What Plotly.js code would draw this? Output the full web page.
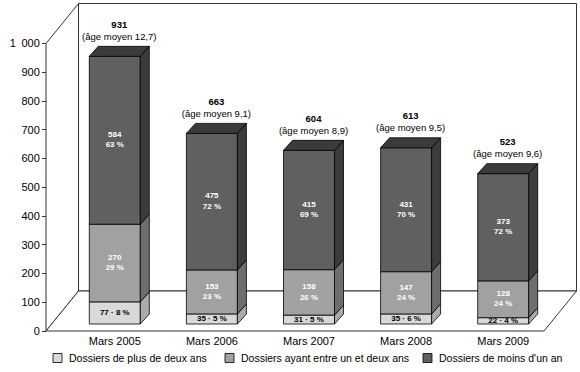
<!DOCTYPE html>
<html>
<head>
<meta charset="utf-8">
<script src="https://cdn.plot.ly/plotly-3.0.1.min.js"></script>
<style>html,body{margin:0;padding:0;background:#fff;}#chart{width:580px;height:372px;}</style>
</head>
<body>
<div id="chart"></div>
<script>
// ---- data ----
const categories = ['Mars 2005', 'Mars 2006', 'Mars 2007', 'Mars 2008', 'Mars 2009'];
const totals = [931, 663, 604, 613, 523];
const ageMoyen = ['12,7', '9,1', '8,9', '9,5', '9,6'];
const plusDeDeuxAns = [77, 35, 31, 35, 22];
const plusDeDeuxAnsPct = [8, 5, 5, 6, 4];
const entreUnEtDeuxAns = [270, 153, 158, 147, 128];
const entreUnEtDeuxAnsPct = [29, 23, 26, 24, 24];
const moinsDUnAn = [584, 475, 415, 431, 373];
const moinsDUnAnPct = [63, 72, 69, 70, 72];
const seriesNames = ['Dossiers de plus de deux ans', 'Dossiers ayant entre un et deux ans', "Dossiers de moins d'un an"];
const yTickVals = [0, 100, 200, 300, 400, 500, 600, 700, 800, 900, 1000];
const yTickText = ['0', '100', '200', '300', '400', '500', '600', '700', '800', '900', '1\u2002000'];

// ---- geometry (pixel-based pseudo-3D) ----
const W = 580, H = 372, ML = 40, MR = 2, MT = 1, MB = 39;
const plotW = W - ML - MR, plotH = H - MT - MB;
const PXU = 97.1, PXV = 0.2875;     // px per category, px per value unit
const U0PX = 109, ZEROPX = 331;     // pixel of category 0 / value 0 (front plane)
const dx = p => p / PXU, dy = p => p / PXV;
const xRange = [(ML - U0PX) / PXU, (W - MR - U0PX) / PXU];
const yRange = [(ZEROPX - (H - MB)) / PXV, (ZEROPX - MT) / PXV];
const pxX = p => (p - ML) / plotW, pxY = p => (H - MB - p) / plotH;

const xL = (46 - U0PX) / PXU, xR = (544 - U0PX) / PXU;
const wallDx = dx(32.5), wallDy = dy(40);
const fdx = dx(5.8), fdy = dy(7);      // bar front face depth
const bw = dx(51);                      // bar width
const bdx = dx(9), bdy = dy(10);        // bar depth

const font = 'Liberation Sans, Arial, Helvetica, sans-serif';
const frontColors = ['#d9d9d9', '#a1a1a1', '#606060'];
const sideColors = ['#ababab', '#6e6e6e', '#3c3c3c'];
const topColor = '#3b3b3b';

const seriesVals = [plusDeDeuxAns, entreUnEtDeuxAns, moinsDUnAn];
const seriesPct = [plusDeDeuxAnsPct, entreUnEtDeuxAnsPct, moinsDUnAnPct];

const traces = [];
const xc = categories.map((c, i) => i + fdx);
let cum = categories.map(() => fdy);

seriesVals.forEach((vals, s) => {
  const bases = cum.slice();
  traces.push({
    type: 'bar', x: xc, y: vals, base: bases, width: bw, name: seriesNames[s],
    marker: {color: frontColors[s], line: {color: '#000', width: 0.8}},
    hoverinfo: 'skip', showlegend: false
  });
  // side faces
  const sx = [], sy = [];
  vals.forEach((v, i) => {
    const r = xc[i] + bw / 2, b = bases[i], t = bases[i] + v;
    sx.push(r, r + bdx, r + bdx, r, r, null);
    sy.push(b, b + bdy, t + bdy, t, b, null);
  });
  traces.push({type: 'scatter', mode: 'lines', x: sx, y: sy, fill: 'toself', fillcolor: sideColors[s],
    line: {color: '#000', width: 0.8}, hoverinfo: 'skip', showlegend: false});
  // labels
  const tx = [], ty = [], tt = [];
  vals.forEach((v, i) => {
    tx.push(xc[i]); ty.push(bases[i] + v / 2);
    tt.push(s === 0 ? '<b>' + v + ' · ' + seriesPct[s][i] + ' %</b>' : '<b>' + v + '</b><br><b>' + seriesPct[s][i] + ' %</b>');
  });
  traces.push({type: 'scatter', mode: 'text', x: tx, y: ty, text: tt, textposition: 'middle center',
    textfont: {family: font, size: 8, color: s === 0 ? '#000' : '#fff'}, hoverinfo: 'skip', showlegend: false, cliponaxis: false});
  cum = cum.map((c, i) => c + vals[i]);
});

// top faces
const topX = [], topY = [];
cum.forEach((t, i) => {
  const l = xc[i] - bw / 2, r = xc[i] + bw / 2;
  topX.push(l, r, r + bdx, l + bdx, l, null);
  topY.push(t, t, t + bdy, t + bdy, t, null);
});
traces.push({type: 'scatter', mode: 'lines', x: topX, y: topY, fill: 'toself', fillcolor: topColor,
  line: {color: '#000', width: 0.8}, hoverinfo: 'skip', showlegend: false});

// totals + average age
traces.push({type: 'scatter', mode: 'text', x: xc.map(x => x + dx(4.5)), y: cum.map(t => t + dy(31)),
  text: totals.map(v => '<b>' + v + '</b>'), textposition: 'middle center',
  textfont: {family: font, size: 9.5, color: '#000'}, hoverinfo: 'skip', showlegend: false, cliponaxis: false});
traces.push({type: 'scatter', mode: 'text', x: xc.map(x => x + dx(4.5)), y: cum.map(t => t + dy(19)),
  text: ageMoyen.map(a => '(âge moyen ' + a + ')'), textposition: 'middle center',
  textfont: {family: font, size: 9.5, color: '#000'}, hoverinfo: 'skip', showlegend: false, cliponaxis: false});

// frame (walls + floor) drawn below traces
const P = pts => 'M' + pts.map(p => p[0] + ',' + p[1]).join('L') + 'Z';
const frameLine = {color: '#333', width: 1};
const shapes = [
  {type: 'path', xref: 'x', yref: 'y', layer: 'below', line: frameLine, fillcolor: '#fff',
   path: P([[xL + wallDx, wallDy], [xL + wallDx, 1000 + wallDy], [xR + wallDx, 1000 + wallDy], [xR + wallDx, wallDy]])},
  {type: 'path', xref: 'x', yref: 'y', layer: 'below', line: frameLine, fillcolor: '#fff',
   path: P([[xL, 0], [xL, 1000], [xL + wallDx, 1000 + wallDy], [xL + wallDx, wallDy]])},
  {type: 'path', xref: 'x', yref: 'y', layer: 'below', line: frameLine, fillcolor: '#fff',
   path: P([[xL, 0], [xR, 0], [xR + wallDx, wallDy], [xL + wallDx, wallDy]])}
];

// legend (drawn manually to match the compact original layout)
const legendBoxX = [53, 225, 423], legendTextX = [67, 239, 437], legendY = 358;
const annotations = [];
seriesNames.forEach((n, s) => {
  shapes.push({type: 'rect', xref: 'paper', yref: 'paper', layer: 'above',
    x0: pxX(legendBoxX[s]), x1: pxX(legendBoxX[s] + 9), y0: pxY(legendY + 4.5), y1: pxY(legendY - 4.5),
    fillcolor: frontColors[s], line: {color: '#000', width: 0.8}});
  annotations.push({xref: 'paper', yref: 'paper', x: pxX(legendTextX[s]), y: pxY(legendY),
    xanchor: 'left', yanchor: 'middle', showarrow: false, text: n,
    font: {family: font, size: 10.5, color: '#000'}});
});

const layout = {
  width: W, height: H,
  margin: {l: ML, r: MR, t: MT, b: MB, pad: 0},
  paper_bgcolor: '#fff', plot_bgcolor: '#fff',
  barmode: 'overlay',
  font: {family: font, size: 11, color: '#000'},
  xaxis: {range: xRange, showgrid: false, zeroline: false, showline: false, ticks: '',
    tickmode: 'array', tickvals: xc, ticktext: categories, tickfont: {family: font, size: 11, color: '#000'},
    fixedrange: true},
  yaxis: {range: yRange, showgrid: false, zeroline: false, showline: false, ticks: 'outside', ticklen: 4,
    tickcolor: '#333', tickwidth: 1, tickmode: 'array', tickvals: yTickVals, ticktext: yTickText,
    tickfont: {family: font, size: 11, color: '#000'}, anchor: 'free', position: (46 - ML) / plotW,
    fixedrange: true},
  shapes: shapes,
  annotations: annotations,
  showlegend: false
};

Plotly.newPlot('chart', traces, layout, {displayModeBar: false, staticPlot: true});
</script>
</body>
</html>
